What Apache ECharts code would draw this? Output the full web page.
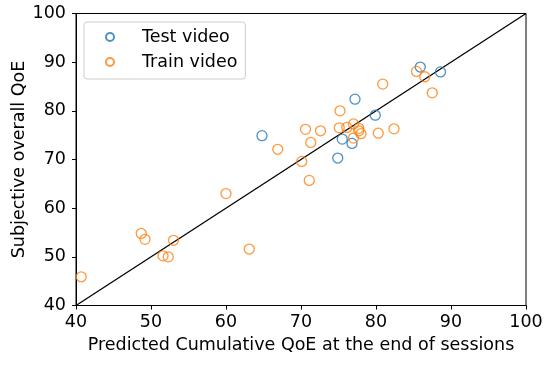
<!DOCTYPE html>
<html>
<head>
<meta charset="utf-8">
<script src="https://cdn.jsdelivr.net/npm/echarts@6/dist/echarts.min.js"></script>
<style>html,body{margin:0;padding:0;background:#fff;}#c{width:550px;height:371px;}</style>
</head>
<body>
<div id="c"></div>
<script>
const testX = [64.8, 85.9, 88.6, 77.2, 79.9, 75.5, 76.8, 74.9];
const testY = [74.9, 89.0, 88.0, 82.4, 79.1, 74.2, 73.3, 70.3];
const trainX = [85.4, 86.5, 87.5, 80.9, 75.2, 70.6, 72.6, 71.3, 75.1, 76.1, 77.0, 77.7, 77.7, 78.0, 77.0, 80.3, 82.4, 70.1, 71.1, 66.9, 60.0, 48.7, 49.2, 53.0, 51.6, 52.3, 63.1, 40.7];
const trainY = [88.1, 87.0, 83.7, 85.5, 80.0, 76.2, 75.9, 73.5, 76.5, 76.6, 77.3, 76.4, 75.9, 75.3, 74.4, 75.4, 76.3, 69.6, 65.7, 72.1, 63.0, 54.8, 53.6, 53.4, 50.2, 50.0, 51.6, 45.9];
const diagX = [40, 100];
const diagY = [40, 100];
const xTicks = [40, 50, 60, 70, 80, 90, 100];
const yTicks = [40, 50, 60, 70, 80, 90, 100];

const zip = (a, b) => a.map((v, i) => [v, b[i]]);
const font = 'DejaVu Sans';
const fs = 17.5;
const chart = echarts.init(document.getElementById('c'), null, {renderer: 'canvas'});
const axisCommon = {
  min: 40, max: 100, interval: 10,
  axisLine: {show: true, onZero: false, lineStyle: {color: '#000', width: 1}},
  axisTick: {show: true, inside: false, length: 4, lineStyle: {color: '#000', width: 1}},
  splitLine: {show: false},
  axisLabel: {color: '#000', fontFamily: font, fontSize: fs, margin: 8},
  nameLocation: 'middle',
  nameMoveOverlap: false,
  nameTextStyle: {color: '#000', fontFamily: font, fontSize: fs}
};
chart.setOption({
  animation: false,
  backgroundColor: '#fff',
  grid: {left: 76, right: 24, top: 13.5, bottom: 65.5, show: true, borderColor: '#000', borderWidth: 1, containLabel: false, outerBoundsMode: 'none'},
  legend: {
    left: 84, top: 22, orient: 'vertical',
    data: ['Test video', 'Train video'],
    itemWidth: 8, itemHeight: 8, itemGap: 5,
    padding: [5, 8, 7, 21],
    borderColor: '#ccc', borderWidth: 1, borderRadius: 3,
    backgroundColor: 'rgba(255,255,255,0.8)',
    textStyle: {color: '#000', fontFamily: font, fontSize: fs, lineHeight: 20, padding: [0, 0, 0, 23]}
  },
  xAxis: Object.assign({}, axisCommon, {type: 'value', name: 'Predicted Cumulative QoE at the end of sessions', nameGap: 31,
    axisLabel: Object.assign({}, axisCommon.axisLabel, {formatter: v => xTicks.includes(v) ? String(v) : ''})}),
  yAxis: Object.assign({}, axisCommon, {type: 'value', name: 'Subjective overall QoE', nameGap: 48,
    axisLabel: Object.assign({}, axisCommon.axisLabel, {margin: 10, formatter: v => yTicks.includes(v) ? String(v) : ''})}),
  series: [
    {
      type: 'line', data: zip(diagX, diagY), symbol: 'none', silent: true,
      lineStyle: {color: '#000', width: 1.3}, z: 1
    },
    {
      name: 'Test video', type: 'scatter', data: zip(testX, testY), symbol: 'circle', symbolSize: 10,
      itemStyle: {color: 'rgba(255,255,255,0)', borderColor: '#1f77b4', borderWidth: 1.3}, z: 3
    },
    {
      name: 'Train video', type: 'scatter', data: zip(trainX, trainY), symbol: 'circle', symbolSize: 10,
      itemStyle: {color: 'rgba(255,255,255,0)', borderColor: '#ff7f0e', borderWidth: 1.3}, z: 3
    }
  ]
});
</script>
</body>
</html>
